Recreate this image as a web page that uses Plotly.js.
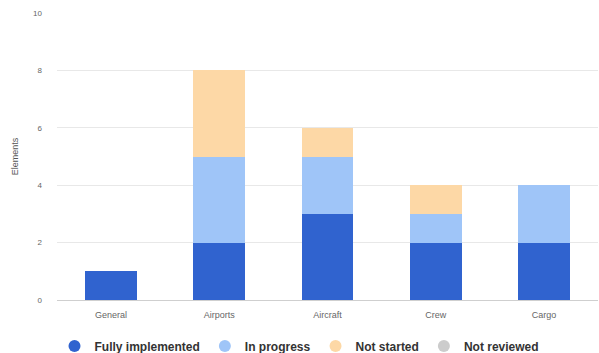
<!DOCTYPE html>
<html>
<head>
<meta charset="utf-8">
<script src="https://cdn.plot.ly/plotly-3.0.1.min.js"></script>
<style>html,body{margin:0;padding:0;background:#fff;}#chart{width:599px;height:353px;}</style>
</head>
<body>
<div id="chart"></div>
<script>
var categories = ["General", "Airports", "Aircraft", "Crew", "Cargo"];
var fullyImplemented = [1, 2, 3, 2, 2];
var inProgress = [0, 3, 2, 1, 2];
var notStarted = [0, 3, 1, 1, 0];
var notReviewed = [0, 0, 0, 0, 0];
var yTicks = [0, 2, 4, 6, 8, 10];
var seriesNames = ["Fully implemented", "In progress", "Not started", "Not reviewed"];
var seriesValues = [fullyImplemented, inProgress, notStarted, notReviewed];
var seriesColors = ["#3063cf", "#9fc5f8", "#fdd8a6", "#cccccc"];

var data = [];
seriesNames.forEach(function (n, i) {
  data.push({type: "bar", name: n, x: categories, y: seriesValues[i], marker: {color: seriesColors[i]}, showlegend: false});
});
seriesNames.forEach(function (n, i) {
  data.push({type: "scatter", mode: "markers", name: n, x: [null], y: [null], marker: {color: seriesColors[i], size: 11, symbol: "circle"}, showlegend: true});
});
var layout = {
  width: 599, height: 353,
  margin: {l: 57, r: 1, t: 13, b: 53},
  barmode: "stack",
  bargap: 0.52,
  paper_bgcolor: "#fff", plot_bgcolor: "#fff",
  font: {family: "Liberation Sans, Arial, sans-serif", color: "#666", size: 8},
  xaxis: {type: "category", tickfont: {size: 9, color: "#666"}, showline: false, ticks: "", ticklabelstandoff: 8, fixedrange: true, showgrid: false},
  yaxis: {range: [0, 10], tickvals: yTicks, ticktext: yTicks.map(String), gridcolor: "#e8e8e8", zeroline: true, zerolinecolor: "#cfcfcf", zerolinewidth: 1,
          ticks: "", ticklen: 0, tickfont: {size: 8, color: "#666"}, ticklabelstandoff: 14,
          title: {text: "Elements", font: {size: 9, color: "#555"}, standoff: 12}},
  legend: {orientation: "h", x: 0.5, xanchor: "center", xref: "container", y: 0.02, yanchor: "middle", yref: "container",
           font: {size: 12, color: "#333", family: "Liberation Sans, Arial, sans-serif", weight: "bold"},
           traceorder: "normal", itemsizing: "constant"},
  showlegend: true
};
Plotly.newPlot("chart", data, layout, {displayModeBar: false, staticPlot: true});
</script>
</body>
</html>
